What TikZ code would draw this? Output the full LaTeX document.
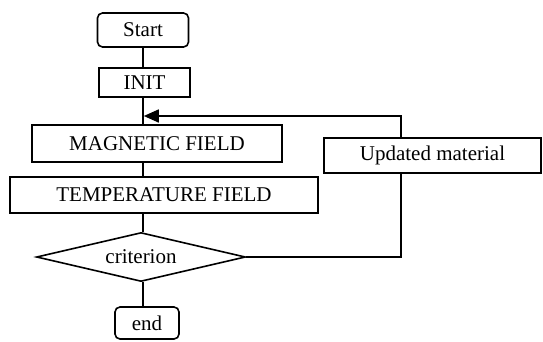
\documentclass[tikz,border=0pt]{standalone}
\usepackage{fontspec}
\setmainfont{Liberation Serif}
\usetikzlibrary{shapes.geometric,arrows.meta,positioning}
\tikzset{
    proc/.style={rectangle, draw, line width=1.6pt, inner sep=0pt, font=\fontsize{21}{24}\selectfont},
    term/.style={proc, rounded corners=5pt},
    decision/.style={diamond, draw, line width=1.6pt, inner sep=0pt, aspect=4.3, font=\fontsize{21}{24}\selectfont},
    flow/.style={draw, line width=1.6pt},
    back/.style={flow, -{Triangle[length=15pt, width=13pt]}}
}
\begin{document}
\begin{tikzpicture}[x=1pt, y=-1pt]
    \useasboundingbox (0,0) rectangle (543,341);
    % Nodes
    \node[term, minimum width=91, minimum height=34] (start) at (143,30) {Start};
    \node[proc, minimum width=91, minimum height=29] (init) at (144.5,82.5) {INIT};
    \node[proc, minimum width=250, minimum height=37] (mag) at (157,143.5) {MAGNETIC FIELD};
    \node[proc, minimum width=308, minimum height=36] (temp) at (164,195) {TEMPERATURE FIELD};
    \node[decision, minimum width=209, minimum height=49] (crit) at (141,257) {criterion};
    \node[term, minimum width=64, minimum height=32] (end) at (147,323) {end};
    \coordinate (turn) at (401,116);

    % edges
    \draw[flow] (start.south -| 143,0) -- (init.north -| 143,0);
    \draw[flow] (init.south -| 143,0) -- (mag.north -| 143,0);
    \draw[flow] (mag.south -| 143,0) -- (temp.north -| 143,0);
    \draw[flow] (temp.south -| 143,0) -- (crit.north -| 143,0);
    \draw[flow] (crit.south -| 143,0) -- (end.north -| 143,0);
    \draw[back] (crit.east) -| (turn) -- (turn -| 143.8,0);

    \node[proc, fill=white, minimum width=217, minimum height=35] (upd) at (432.5,155.5) {Updated material};
\end{tikzpicture}
\end{document}
